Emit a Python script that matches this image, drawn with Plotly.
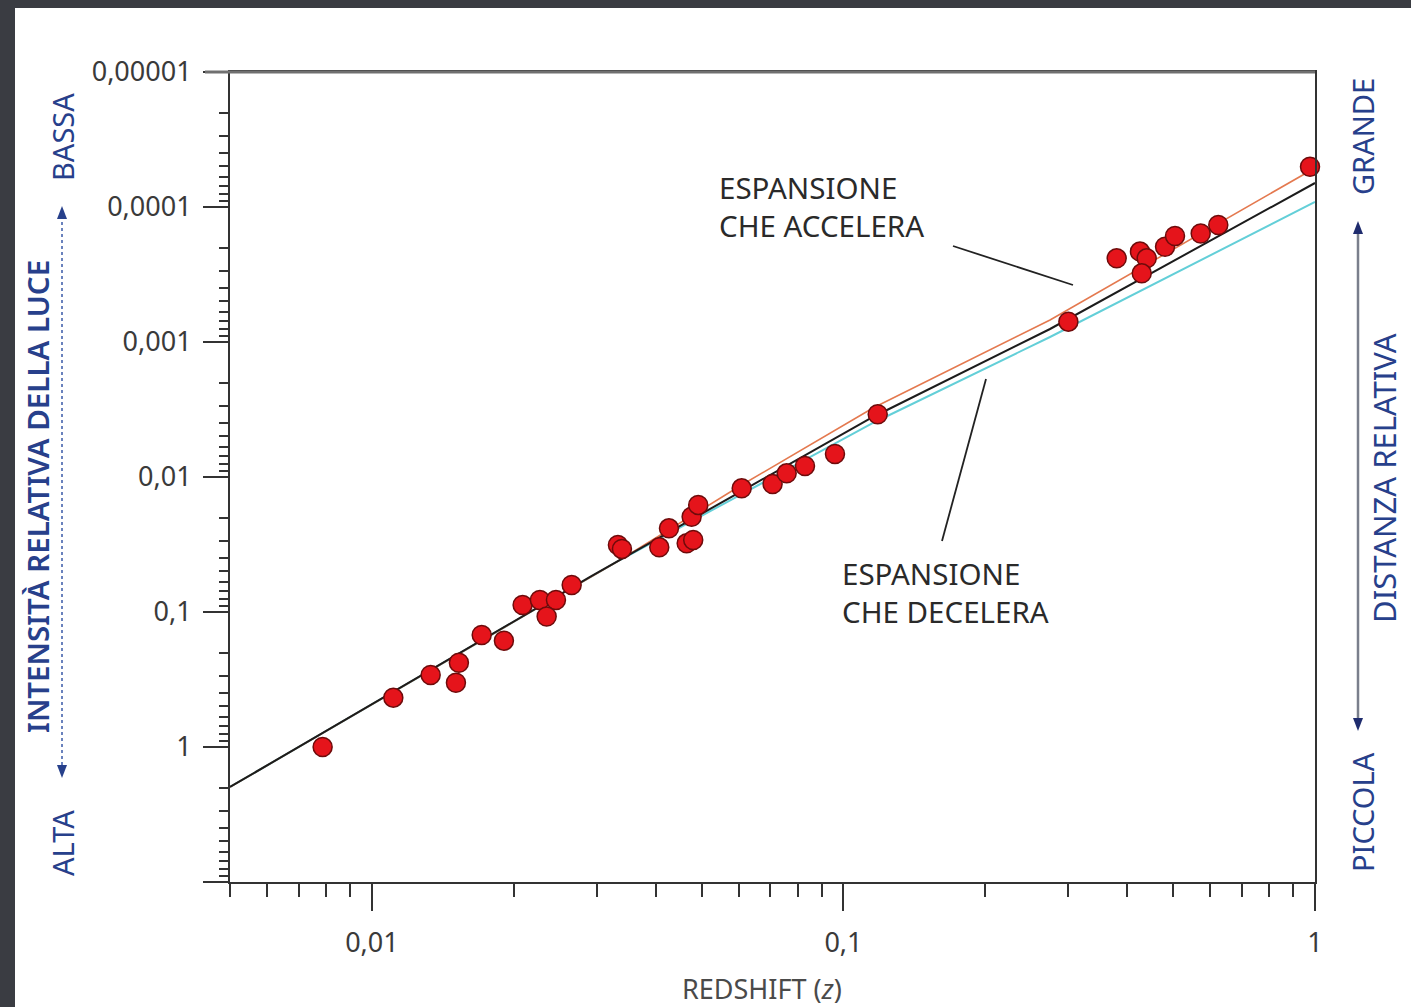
import plotly.graph_objects as go

# ---------------- data ----------------
z_obs = [0.00786, 0.01110, 0.01332, 0.01529, 0.01507, 0.01709, 0.01905, 0.02087,
         0.02271, 0.02456, 0.02347, 0.02652, 0.03324, 0.03390, 0.04068, 0.04265,
         0.04650, 0.04801, 0.04764, 0.04920, 0.06083, 0.07075, 0.07578, 0.08287,
         0.09594, 0.1182, 0.2999, 0.3797, 0.4254, 0.4396, 0.4291, 0.4808,
         0.5048, 0.5722, 0.6236, 0.9759]
intensity_obs = [1.0, 0.431, 0.293, 0.2375, 0.334, 0.148, 0.163, 0.0887,
                 0.0815, 0.0815, 0.108, 0.0631, 0.0319, 0.0341, 0.0332, 0.024,
                 0.031, 0.0293, 0.0197, 0.0161, 0.01213, 0.01127, 0.0094, 0.00829,
                 0.00675, 0.00343, 0.000707, 0.00024, 0.000214, 0.00024, 0.00031, 0.000197,
                 0.000164, 0.000157, 0.000136, 0.0000503]

z_coast = [0.005, 0.01614, 0.02901, 0.06031, 0.1155, 0.2742, 1.0]
i_coast = [1.978, 0.1816, 0.0550, 0.01292, 0.003594, 0.000801, 0.0000664]

z_model = [0.005, 0.01614, 0.02901, 0.03357, 0.06031, 0.1155, 0.2742, 1.0]
i_accel = [1.978, 0.1816, 0.0550, 0.0412, 0.01166, 0.003083, 0.000687, 0.0000514]
i_decel = [1.978, 0.1816, 0.0550, 0.0412, 0.0136, 0.00398, 0.000918, 0.0000918]

x_tickvals = [0.01, 0.1, 1]
x_ticktext = ["0,01", "0,1", "1"]
y_tickvals = [0.00001, 0.0001, 0.001, 0.01, 0.1, 1, 10]
y_ticktext = ["0,00001", "0,0001", "0,001", "0,01", "0,1", "1", ""]

# ---------------- layout helpers ----------------
W, H = 1411, 1007
L, R, T, B = 230, 1315, 72, 882


def px(x):
    return (x - L) / (R - L)


def py(y):
    return (B - y) / (B - T)


def path(points):
    s = "M " + " L ".join(f"{px(a):.5f},{py(b):.5f}" for a, b in points) + " Z"
    return s


x_minor = [d * 10 ** e for e in (-3, -2, -1) for d in range(2, 10) if d * 10 ** e >= 0.005 - 1e-12]
y_minor = [d * 10 ** e for e in (-5, -4, -3, -2, -1, 0) for d in range(2, 10)]

fig = go.Figure()

fig.add_trace(go.Scatter(x=z_model, y=i_decel, mode="lines",
                         line=dict(color="#63cfd8", width=2), showlegend=False))
fig.add_trace(go.Scatter(x=z_model, y=i_accel, mode="lines",
                         line=dict(color="#e4794f", width=1.6), showlegend=False))
fig.add_trace(go.Scatter(x=z_coast, y=i_coast, mode="lines",
                         line=dict(color="#1c1c1c", width=2), showlegend=False))
fig.add_trace(go.Scatter(x=z_obs, y=intensity_obs, mode="markers", cliponaxis=False,
                         marker=dict(size=19, color="#e5141b",
                                     line=dict(color="#6e0b0b", width=1.5)),
                         showlegend=False))

tick_font = dict(family="Noto Sans", size=27, color="#3a3a3a")

fig.update_xaxes(type="log", range=[-2.30103, 0], tickvals=x_tickvals, ticktext=x_ticktext,
                 ticks="outside", ticklen=27, tickwidth=2, tickcolor="#333",
                 showline=True, linecolor="#333", linewidth=2, mirror=True,
                 showgrid=False, zeroline=False, tickfont=tick_font, ticklabelstandoff=9,
                 minor=dict(tickvals=x_minor, ticks="outside", ticklen=13, tickwidth=2,
                            tickcolor="#333", showgrid=False))
fig.update_yaxes(type="log", range=[1, -5], tickvals=y_tickvals, ticktext=y_ticktext,
                 ticks="outside", ticklen=25, tickwidth=2, tickcolor="#333",
                 showline=True, linecolor="#333", linewidth=2, mirror=True,
                 showgrid=False, zeroline=False, tickfont=tick_font, ticklabelstandoff=6,
                 minor=dict(tickvals=y_minor, ticks="outside", ticklen=9, tickwidth=1.5,
                            tickcolor="#333", showgrid=False))

navy = "#27408b"
shapes = [
    # dark frame strips
    dict(type="rect", xref="paper", yref="paper", x0=px(0), x1=px(15), y0=py(W), y1=py(0),
         fillcolor="#3a3c42", line=dict(width=0)),
    dict(type="rect", xref="paper", yref="paper", x0=px(0), x1=px(W), y0=py(8), y1=py(0),
         fillcolor="#3a3c42", line=dict(width=0)),
    # top frame line (grey)
    dict(type="line", xref="paper", yref="paper", x0=px(205), x1=px(1315), y0=py(72), y1=py(72),
         line=dict(color="#707070", width=3)),
    # leader lines
    dict(type="line", xref="paper", yref="paper", x0=px(953), y0=py(246), x1=px(1073), y1=py(285),
         line=dict(color="#222", width=1.8)),
    dict(type="line", xref="paper", yref="paper", x0=px(986), y0=py(379), x1=px(942), y1=py(541),
         line=dict(color="#222", width=1.8)),
    # left arrow
    dict(type="line", xref="paper", yref="paper", x0=px(62), x1=px(62), y0=py(216), y1=py(768),
         line=dict(color="#3a5aa8", width=1.5, dash="dot")),
    dict(type="path", xref="paper", yref="paper", path=path([(62, 206), (57, 219), (67, 219)]),
         fillcolor=navy, line=dict(width=0)),
    dict(type="path", xref="paper", yref="paper", path=path([(62, 778), (57, 765), (67, 765)]),
         fillcolor=navy, line=dict(width=0)),
    # right arrow
    dict(type="line", xref="paper", yref="paper", x0=px(1358), x1=px(1358), y0=py(230), y1=py(722),
         line=dict(color="#7a7f8c", width=2.5)),
    dict(type="path", xref="paper", yref="paper", path=path([(1358, 221), (1353, 234), (1363, 234)]),
         fillcolor="#1f2c6e", line=dict(width=0)),
    dict(type="path", xref="paper", yref="paper", path=path([(1358, 731), (1353, 718), (1363, 718)]),
         fillcolor="#1f2c6e", line=dict(width=0)),
]

ann_font = dict(family="Noto Sans", size=29.5, color="#2a2a2a")
side_font = dict(family="Noto Sans", size=29, color=navy)


def note(text, x, y, font, angle=0, xanchor="center", align="center"):
    return dict(text=text, x=px(x), y=py(y), xref="paper", yref="paper", showarrow=False,
                xanchor=xanchor, yanchor="middle", textangle=angle, font=font, align=align)


annotations = [
    note("ESPANSIONE<br>CHE ACCELERA", 717, 207, ann_font, xanchor="left", align="left"),
    note("ESPANSIONE<br>CHE DECELERA", 840, 592, ann_font, xanchor="left", align="left"),
    note("REDSHIFT (<i>z</i>)", 762, 988, dict(family="Noto Sans", size=27, color="#4a4a4a")),
    note("INTENSITÀ RELATIVA DELLA LUCE", 37, 497,
         dict(family="Noto Sans", size=29.5, color=navy, weight=600), angle=-90),
    note("BASSA", 62, 137, side_font, angle=-90),
    note("ALTA", 62, 843, side_font, angle=-90),
    note("GRANDE", 1362, 137, side_font, angle=-90),
    note("PICCOLA", 1362, 812, side_font, angle=-90),
    note("DISTANZA RELATIVA", 1384, 478, dict(family="Noto Sans", size=31, color=navy), angle=-90),
]

fig.update_layout(width=W, height=H, margin=dict(l=L, r=W - R, t=T, b=H - B),
                  paper_bgcolor="white", plot_bgcolor="white",
                  shapes=shapes, annotations=annotations, showlegend=False)

fig.write_html("out.html")
